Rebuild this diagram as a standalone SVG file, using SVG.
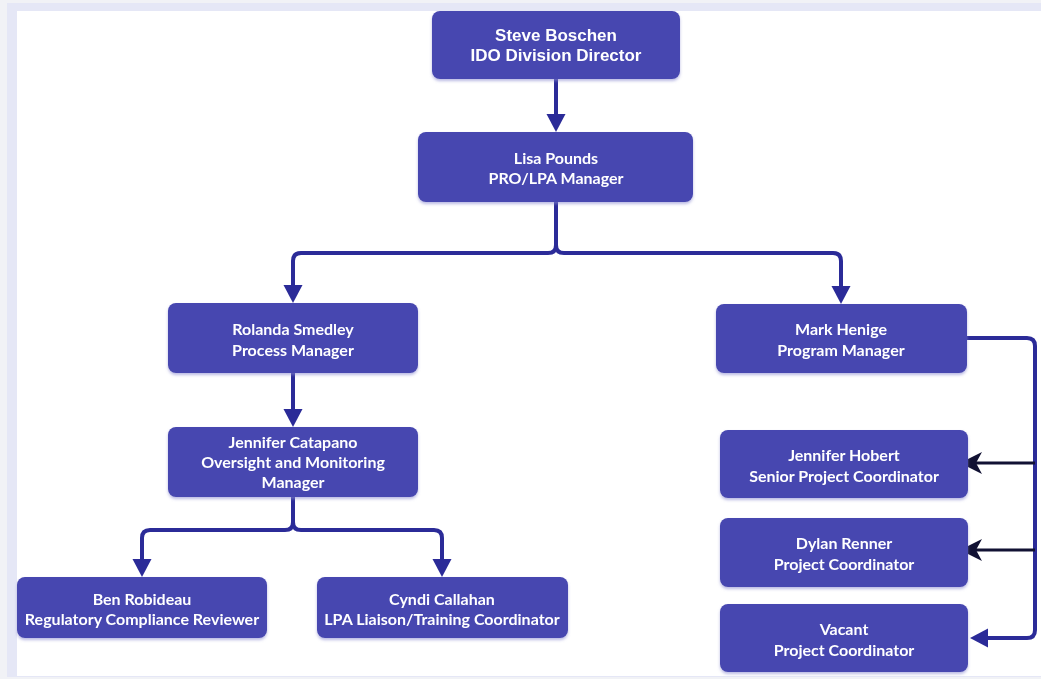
<svg xmlns="http://www.w3.org/2000/svg" width="1041" height="679" viewBox="0 0 1041 679">
<defs>
<style>
.box{fill:#4646b0;}
.t{fill:#ffffff;font-family:Lato,"Open Sans","Liberation Sans",sans-serif;font-weight:bold;font-size:16px;text-anchor:middle;}
.ta{fill:#ffffff;font-family:"Liberation Sans",Arial,sans-serif;font-weight:bold;font-size:17px;text-anchor:middle;}
.c{fill:none;stroke:#2b2b98;stroke-width:4;}
.k{fill:none;stroke:#111133;stroke-width:3;}
</style>
<filter id="sh" x="-10%" y="-10%" width="120%" height="130%">
<feDropShadow dx="0" dy="2" stdDeviation="1.5" flood-color="#8c8cd0" flood-opacity="0.6"/>
</filter>
<marker id="a" markerUnits="userSpaceOnUse" markerWidth="20" markerHeight="20" refX="8" refY="9.5" orient="auto">
<path d="M0,0 L18,9.5 L0,19 Z" fill="#2b2b98"/>
</marker>
<marker id="b" markerUnits="userSpaceOnUse" markerWidth="24" markerHeight="24" refX="6" refY="11" orient="auto">
<path d="M0,0 L22,11 L0,22 L6,11 Z" fill="#111133"/>
</marker>
</defs>
<rect x="0" y="0" width="1041" height="679" fill="#f1f2f6"/>
<rect x="7" y="3" width="1034" height="674" fill="#e5e7f6"/>
<rect x="17" y="11" width="1024" height="665" fill="#ffffff"/>

<g id="connectors">
<path class="c" d="M556,79 V122" marker-end="url(#a)"/>
<path class="c" d="M556,202 V245 Q556,253 548,253 H301 Q293,253 293,261 V293" marker-end="url(#a)"/>
<path class="c" d="M556,245 Q556,253 564,253 H833 Q841,253 841,261 V294" marker-end="url(#a)"/>
<path class="c" d="M293,373 V417" marker-end="url(#a)"/>
<path class="c" d="M293,497 V522 Q293,530 285,530 H150 Q142,530 142,538 V567" marker-end="url(#a)"/>
<path class="c" d="M293,522 Q293,530 301,530 H434 Q442,530 442,538 V567" marker-end="url(#a)"/>
<path class="c" d="M967,338 H1027 Q1035,338 1035,346 V630 Q1035,638 1027,638 H980" marker-end="url(#a)"/>
<path class="k" d="M1035,463 H976" marker-end="url(#b)"/>
<path class="k" d="M1035,550 H976" marker-end="url(#b)"/>
</g>

<g id="steve" filter="url(#sh)">
<rect class="box" x="432" y="11" width="248" height="68" rx="8"/>
<text class="ta" x="556" y="41">Steve Boschen</text>
<text class="ta" x="556" y="61">IDO Division Director</text>
</g>
<g id="lisa" filter="url(#sh)">
<rect class="box" x="418" y="132" width="275" height="70" rx="8"/>
<text class="t" x="556" y="164">Lisa Pounds</text>
<text class="t" x="556" y="184">PRO/LPA Manager</text>
</g>
<g id="rolanda" filter="url(#sh)">
<rect class="box" x="168" y="303" width="250" height="70" rx="8"/>
<text class="t" x="293" y="335">Rolanda Smedley</text>
<text class="t" x="293" y="356">Process Manager</text>
</g>
<g id="mark" filter="url(#sh)">
<rect class="box" x="716" y="304" width="251" height="69" rx="8"/>
<text class="t" x="841" y="335">Mark Henige</text>
<text class="t" x="841" y="356">Program Manager</text>
</g>
<g id="catapano" filter="url(#sh)">
<rect class="box" x="168" y="427" width="250" height="70" rx="8"/>
<text class="t" x="293" y="448">Jennifer Catapano</text>
<text class="t" x="293" y="468">Oversight and Monitoring</text>
<text class="t" x="293" y="488">Manager</text>
</g>
<g id="ben" filter="url(#sh)">
<rect class="box" x="17" y="577" width="250" height="61" rx="8"/>
<text class="t" x="142" y="605">Ben Robideau</text>
<text class="t" x="142" y="625">Regulatory Compliance Reviewer</text>
</g>
<g id="cyndi" filter="url(#sh)">
<rect class="box" x="317" y="577" width="251" height="61" rx="8"/>
<text class="t" x="442" y="605">Cyndi Callahan</text>
<text class="t" x="442" y="625">LPA Liaison/Training Coordinator</text>
</g>
<g id="hobert" filter="url(#sh)">
<rect class="box" x="720" y="430" width="248" height="68" rx="8"/>
<text class="t" x="844" y="461">Jennifer Hobert</text>
<text class="t" x="844" y="482">Senior Project Coordinator</text>
</g>
<g id="renner" filter="url(#sh)">
<rect class="box" x="720" y="518" width="248" height="69" rx="8"/>
<text class="t" x="844" y="549">Dylan Renner</text>
<text class="t" x="844" y="570">Project Coordinator</text>
</g>
<g id="vacant" filter="url(#sh)">
<rect class="box" x="720" y="604" width="248" height="68" rx="8"/>
<text class="t" x="844" y="635">Vacant</text>
<text class="t" x="844" y="656">Project Coordinator</text>
</g>
</svg>
